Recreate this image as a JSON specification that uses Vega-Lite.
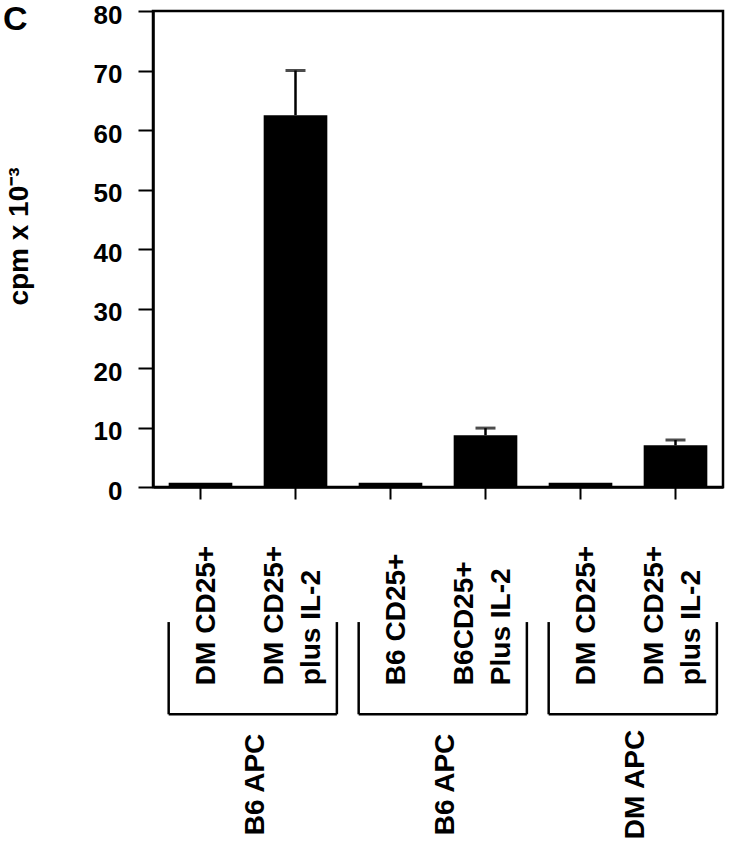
{
  "$schema": "https://vega.github.io/schema/vega-lite/v6.json",
  "autosize": {"type": "none"},
  "padding": {"left": 153, "top": 11, "right": 12, "bottom": 366},
  "width": 570,
  "height": 476,
  "background": "white",
  "title": {"text": "C", "anchor": "start", "frame": "group", "orient": "top", "offset": 0, "dx": -150, "dy": 35, "baseline": "top", "font": "Liberation Sans", "fontSize": 34, "fontWeight": "bold", "color": "black"},
  "datasets": {
    "bars": [
      {"key": "1|DM CD25+", "value": 0.7, "upper": null, "line1": "DM CD25+", "line2": null},
      {"key": "2|DM CD25+|plus IL-2", "value": 62.5, "upper": 70, "line1": "DM CD25+", "line2": "plus IL-2"},
      {"key": "3|B6 CD25+", "value": 0.7, "upper": null, "line1": "B6 CD25+", "line2": null},
      {"key": "4|B6CD25+|Plus IL-2", "value": 8.7, "upper": 9.9, "line1": "B6CD25+", "line2": "Plus IL-2"},
      {"key": "5|DM CD25+", "value": 0.7, "upper": null, "line1": "DM CD25+", "line2": null},
      {"key": "6|DM CD25+|plus IL-2", "value": 7.0, "upper": 7.9, "line1": "DM CD25+", "line2": "plus IL-2"}
    ],
    "groups": [
      {"group": "B6 APC", "first": "1|DM CD25+", "last": "2|DM CD25+|plus IL-2"},
      {"group": "B6 APC", "first": "3|B6 CD25+", "last": "4|B6CD25+|Plus IL-2"},
      {"group": "DM APC", "first": "5|DM CD25+", "last": "6|DM CD25+|plus IL-2"}
    ]
  },
  "config": {
    "view": {"stroke": "black", "strokeWidth": 2.5},
    "font": "Liberation Sans"
  },
  "encoding": {
    "x": {
      "field": "key", "type": "nominal", "sort": null,
      "scale": {"domain": ["1|DM CD25+", "2|DM CD25+|plus IL-2", "3|B6 CD25+", "4|B6CD25+|Plus IL-2", "5|DM CD25+", "6|DM CD25+|plus IL-2"], "paddingInner": 0.33, "paddingOuter": 0.165},
      "axis": {
        "title": null, "labels": false,
        "tickSize": 12, "tickWidth": 2, "tickColor": "black",
        "domainColor": "black", "domainWidth": 2.5
      }
    }
  },
  "layer": [
    {
      "data": {"name": "bars"},
      "mark": {"type": "bar", "color": "black"},
      "encoding": {
        "y": {
          "field": "value", "type": "quantitative",
          "scale": {"domain": [0, 80], "nice": false, "zero": true},
          "axis": {
            "title": "cpm x 10⁻³", "values": [0, 10, 20, 30, 40, 50, 60, 70, 80], "grid": false,
            "labelFont": "Liberation Sans", "labelFontSize": 26, "labelFontWeight": "bold", "labelColor": "black", "labelPadding": 16, "labelOffset": 4,
            "tickSize": 15, "tickWidth": 2, "tickColor": "black", "domainColor": "black", "domainWidth": 2.5,
            "titleFont": "Liberation Sans", "titleFontSize": 28, "titleFontWeight": "bold", "titleColor": "black", "titlePadding": 60, "titleY": 225
          }
        }
      }
    },
    {
      "data": {"name": "bars"},
      "transform": [{"filter": "datum.upper != null"}],
      "mark": {"type": "rule", "color": "black", "strokeWidth": 2.5},
      "encoding": {
        "y": {"field": "value", "type": "quantitative"},
        "y2": {"field": "upper"}
      }
    },
    {
      "data": {"name": "bars"},
      "transform": [{"filter": "datum.upper != null"}],
      "mark": {"type": "tick", "color": "black", "size": 20, "thickness": 3, "orient": "horizontal"},
      "encoding": {
        "y": {"field": "upper", "type": "quantitative"}
      }
    },
    {
      "data": {"name": "bars"},
      "transform": [{"filter": "datum.line2 == null"}],
      "mark": {"type": "text", "color": "black", "angle": 270, "align": "left", "baseline": "middle", "font": "Liberation Sans", "fontSize": 28, "fontWeight": "bold"},
      "encoding": {
        "x": {"field": "key", "type": "nominal", "bandPosition": 0.6},
        "y": {"datum": -33.3},
        "text": {"field": "line1"}
      }
    },
    {
      "data": {"name": "bars"},
      "transform": [{"filter": "datum.line2 != null"}],
      "mark": {"type": "text", "color": "black", "angle": 270, "align": "left", "baseline": "middle", "font": "Liberation Sans", "fontSize": 28, "fontWeight": "bold"},
      "encoding": {
        "x": {"field": "key", "type": "nominal", "bandPosition": 0.18},
        "y": {"datum": -33.3},
        "text": {"field": "line1"}
      }
    },
    {
      "data": {"name": "bars"},
      "transform": [{"filter": "datum.line2 != null"}],
      "mark": {"type": "text", "color": "black", "angle": 270, "align": "left", "baseline": "middle", "font": "Liberation Sans", "fontSize": 28, "fontWeight": "bold"},
      "encoding": {
        "x": {"field": "key", "type": "nominal", "bandPosition": 0.76},
        "y": {"datum": -33.3},
        "text": {"field": "line2"}
      }
    },
    {
      "data": {"name": "groups"},
      "mark": {"type": "rule", "color": "black", "strokeWidth": 2.5},
      "encoding": {
        "x": {"field": "first", "type": "nominal", "bandPosition": 0},
        "y": {"datum": -22.7},
        "y2": {"datum": -38.2}
      }
    },
    {
      "data": {"name": "groups"},
      "mark": {"type": "rule", "color": "black", "strokeWidth": 2.5},
      "encoding": {
        "x": {"field": "last", "type": "nominal", "bandPosition": 1.15},
        "y": {"datum": -22.7},
        "y2": {"datum": -38.2}
      }
    },
    {
      "data": {"name": "groups"},
      "mark": {"type": "rule", "color": "black", "strokeWidth": 2.5},
      "encoding": {
        "x": {"field": "first", "type": "nominal", "bandPosition": 0},
        "x2": {"field": "last", "bandPosition": 1.15},
        "y": {"datum": -38.2}
      }
    },
    {
      "data": {"name": "groups"},
      "mark": {"type": "text", "color": "black", "angle": 270, "align": "center", "baseline": "middle", "font": "Liberation Sans", "fontSize": 28, "fontWeight": "bold"},
      "encoding": {
        "x": {"field": "first", "type": "nominal", "bandPosition": 1.37},
        "y": {"datum": -50},
        "text": {"field": "group"}
      }
    }
  ]
}
